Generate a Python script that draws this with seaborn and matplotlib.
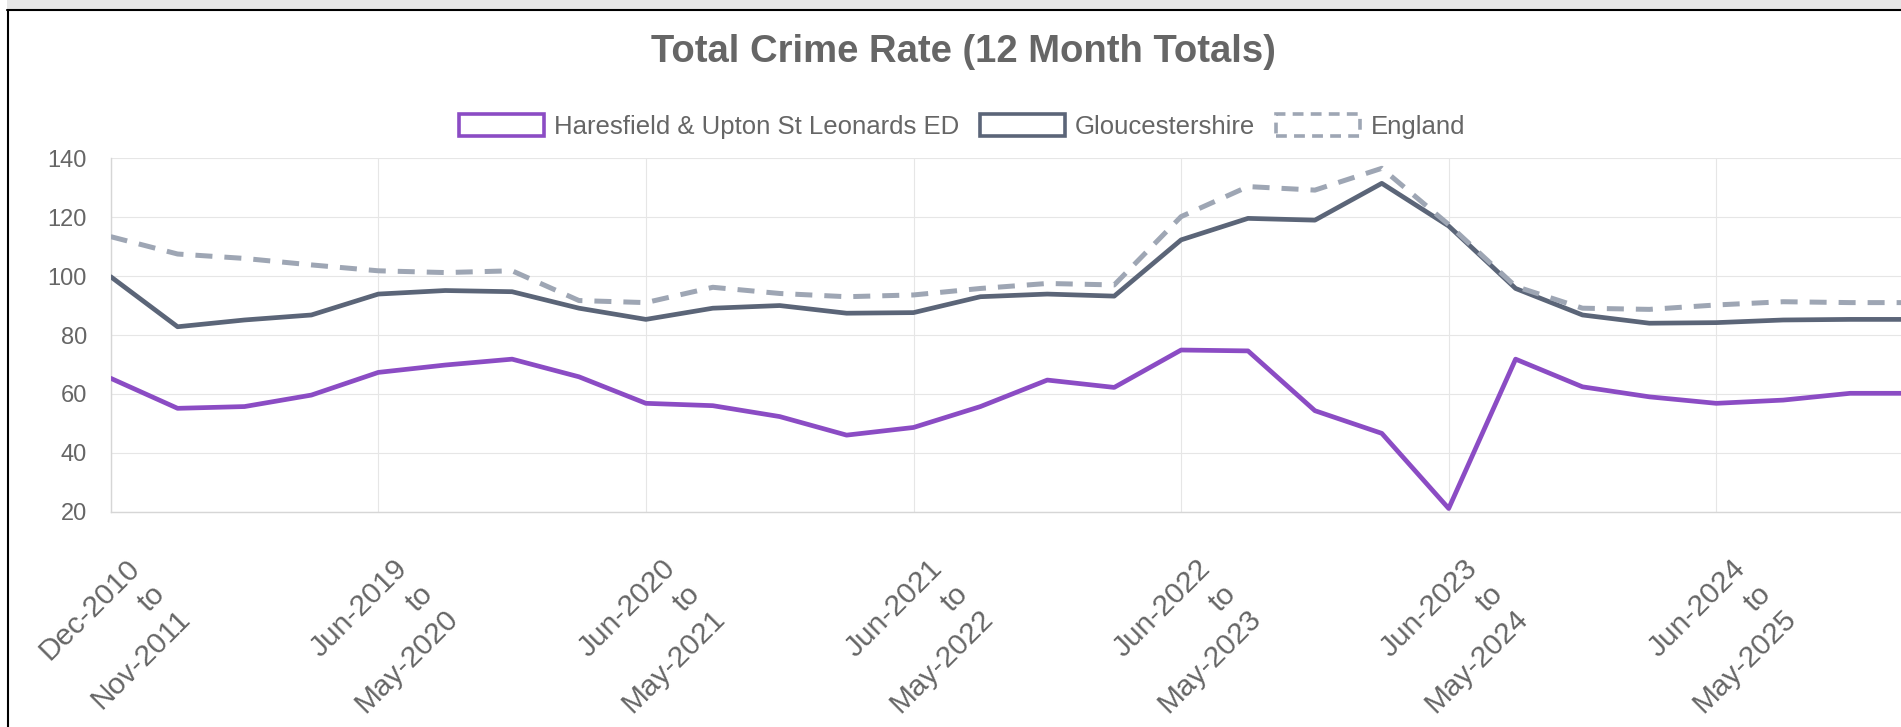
import numpy as np
import pandas as pd
import matplotlib
matplotlib.use("Agg")
import matplotlib.pyplot as plt
import seaborn as sns
from matplotlib.patches import Patch, Rectangle
from matplotlib.lines import Line2D
from matplotlib.transforms import ScaledTranslation

# ---------------- data ----------------
periods = [
    "Dec-2010\nto\nNov-2011", "Sep-2018\nto\nAug-2019", "Dec-2018\nto\nNov-2019", "Mar-2019\nto\nFeb-2020",
    "Jun-2019\nto\nMay-2020", "Sep-2019\nto\nAug-2020", "Dec-2019\nto\nNov-2020", "Mar-2020\nto\nFeb-2021",
    "Jun-2020\nto\nMay-2021", "Sep-2020\nto\nAug-2021", "Dec-2020\nto\nNov-2021", "Mar-2021\nto\nFeb-2022",
    "Jun-2021\nto\nMay-2022", "Sep-2021\nto\nAug-2022", "Dec-2021\nto\nNov-2022", "Mar-2022\nto\nFeb-2023",
    "Jun-2022\nto\nMay-2023", "Sep-2022\nto\nAug-2023", "Dec-2022\nto\nNov-2023", "Mar-2023\nto\nFeb-2024",
    "Jun-2023\nto\nMay-2024", "Sep-2023\nto\nAug-2024", "Dec-2023\nto\nNov-2024", "Mar-2024\nto\nFeb-2025",
    "Jun-2024\nto\nMay-2025", "Sep-2024\nto\nAug-2025", "Dec-2024\nto\nNov-2025", "Mar-2025\nto\nFeb-2026",
]
haresfield = [65.3, 55.1, 55.7, 59.6, 67.3, 69.8, 71.8, 65.8, 56.8, 56.0, 52.3, 46.0, 48.6, 55.7,
              64.7, 62.2, 74.9, 74.6, 54.3, 46.6, 21.1, 71.8, 62.4, 59.0, 56.8, 57.9, 60.2, 60.2]
gloucestershire = [99.8, 82.8, 85.1, 86.8, 93.9, 95.1, 94.7, 89.1, 85.3, 89.1, 90.0, 87.4, 87.6, 93.0,
                   93.9, 93.2, 112.3, 119.6, 119.0, 131.5, 117.0, 95.8, 86.8, 84.0, 84.2, 85.1, 85.3, 85.3]
england = [113.4, 107.5, 106.0, 103.8, 101.8, 101.2, 101.8, 91.7, 91.0, 96.2, 94.1, 93.0, 93.6, 95.8,
           97.5, 97.0, 120.2, 130.4, 129.2, 136.6, 117.5, 96.5, 89.1, 88.7, 90.2, 91.3, 91.0, 91.0]
series_names = ["Haresfield & Upton St Leonards ED", "Gloucestershire", "England"]
y_ticks = [20, 40, 60, 80, 100, 120, 140]
title = "Total Crime Rate (12 Month Totals)"

# ---------------- style ----------------
sns.set_style("white")
plt.rcParams["font.family"] = ["Liberation Sans", "DejaVu Sans"]

W, H = 1901, 727
fig = plt.figure(figsize=(W / 100, H / 100), dpi=100)

purple = "#8b4cc4"
slate = "#5b6578"
grey = "#9ea6b4"
txt = "#666666"
grid_c = "#e6e6e6"

# axes placement (pixel based)
left_px, step_px = 110.7, 66.9
n = len(periods)
right_px = left_px + step_px * (n - 1)
top_px, bot_px = 158.3, 511.7
ax = fig.add_axes([left_px / W, 1 - bot_px / H, (right_px - left_px) / W, (bot_px - top_px) / H])

x = np.arange(n)
sns.lineplot(x=x, y=gloucestershire, ax=ax, color=slate, linewidth=3.4, zorder=3)
sns.lineplot(x=x, y=england, ax=ax, color=grey, linewidth=3.6, linestyle=(0, (3.4, 2.4)), zorder=4)
sns.lineplot(x=x, y=haresfield, ax=ax, color=purple, linewidth=3.4, zorder=5)

ax.set_xlim(0, n - 1)
ax.set_ylim(20, 140)
ax.set_yticks(y_ticks)
ax.set_yticklabels([str(v) for v in y_ticks])
label_pos = list(range(0, n, 4))
ax.set_xticks(label_pos)
ax.set_xticklabels([])
ax.grid(True, color=grid_c, linewidth=0.8)
ax.tick_params(axis="y", length=12, width=0.8, color=grid_c, pad=5, labelsize=17, labelcolor=txt)
ax.tick_params(axis="x", length=11, width=0.8, color=grid_c, labelbottom=False)
for s in ["top", "right"]:
    ax.spines[s].set_visible(False)
for s in ["left", "bottom"]:
    ax.spines[s].set_color("#d6d6d6")
    ax.spines[s].set_linewidth(1.0)
ax.set_xlabel("")
ax.set_ylabel("")

# rotated multi-line x labels (right aligned lines)
off = ScaledTranslation(50 / 100, -77.5 / 100, fig.dpi_scale_trans)
for p in label_pos:
    ax.text(p, 0, periods[p], transform=ax.get_xaxis_transform() + off,
            rotation=45, rotation_mode="anchor", ha="right", va="center",
            multialignment="right", fontsize=21.5, color=txt, linespacing=1.35, clip_on=False)

# title
fig.text(963 / W, 1 - 52 / H, title, ha="center", va="center", fontsize=27.5,
         fontweight="bold", color=txt)

# legend
handles = [
    Patch(facecolor="white", edgecolor=purple, linewidth=2.6, label=series_names[0]),
    Patch(facecolor="white", edgecolor=slate, linewidth=2.6, label=series_names[1]),
    Patch(facecolor="white", edgecolor=grey, linewidth=2.6, linestyle=(0, (3, 2)), label=series_names[2]),
]
fig.legend(handles=handles, loc="center", bbox_to_anchor=(962 / W, 1 - 126.5 / H), ncol=3,
           frameon=False, fontsize=18.5, labelcolor=txt, handlelength=3.3, handleheight=0.9,
           handletextpad=0.4, columnspacing=0.8)

# page frame
fig.add_artist(Rectangle((7 / W, 1 - 9.5 / H), 1, 9.5 / H, transform=fig.transFigure,
                         facecolor="#e6e6e6", edgecolor="none"))
fig.add_artist(Line2D([7 / W, 1], [1 - 10.2 / H, 1 - 10.2 / H], transform=fig.transFigure,
                      color="black", linewidth=1.5))
fig.add_artist(Line2D([7.8 / W, 7.8 / W], [0, 1 - 9.5 / H], transform=fig.transFigure,
                      color="black", linewidth=1.5))

fig.savefig("out.png", dpi=100)
